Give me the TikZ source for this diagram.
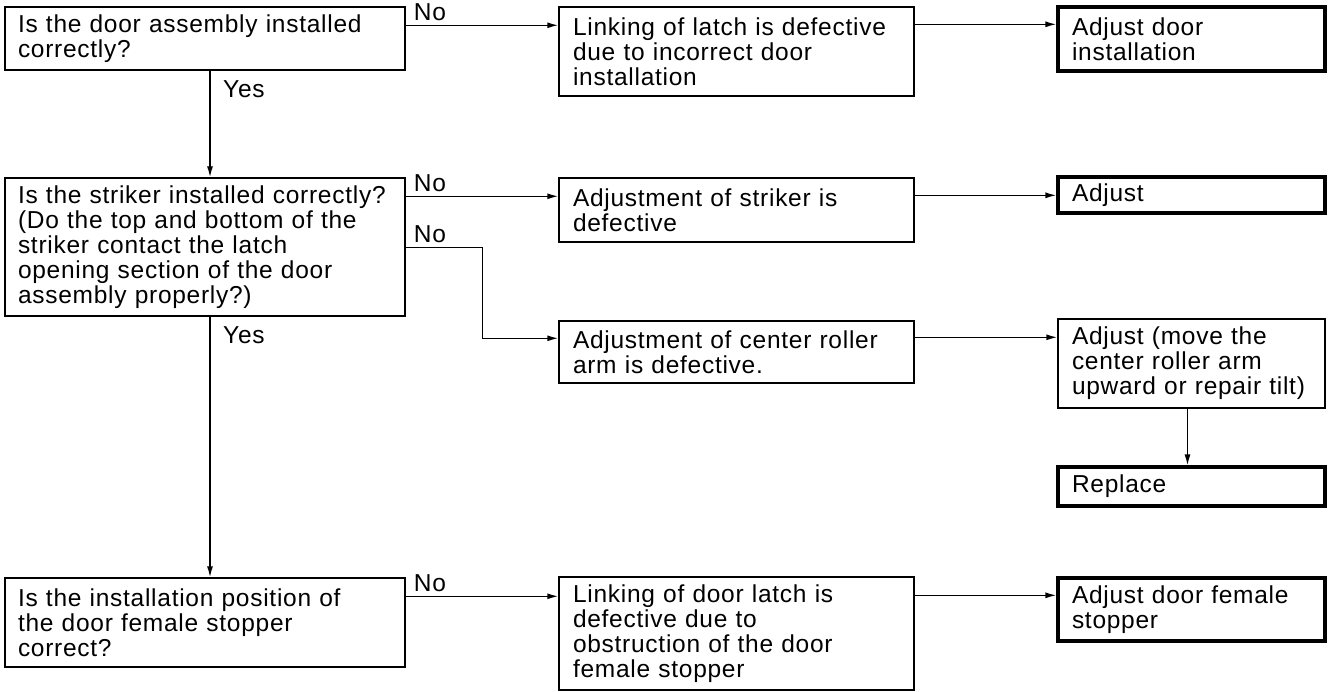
\documentclass[tikz,border=0pt]{standalone}
\usepackage{fontspec}
\setmainfont{Liberation Sans}[LetterSpace=3]
\usetikzlibrary{arrows.meta}
\tikzset{
 box/.style={draw, line width=1.4pt, align=left, inner ysep=0pt, font=\fontsize{24.5}{25}\selectfont},
 qbox/.style={box, inner xsep=13pt, text width=374pt},
 lbox/.style={box, inner xsep=14pt, text width=327pt},
 abox/.style={box, inner xsep=14pt, text width=239pt},
 endbox/.style={draw, line width=3.2pt, align=left, inner ysep=0pt, inner xsep=14pt, text width=239pt, font=\fontsize{24.5}{25}\selectfont},
 arr/.style={line width=1.4pt, -{Latex[length=11pt,width=6pt]}},
 lbl/.style={font=\fontsize{24.5}{25}\selectfont, inner xsep=8pt, inner ysep=4.5pt},
 yeslbl/.style={font=\fontsize{24.5}{25}\selectfont, inner xsep=13pt, inner ysep=10pt}
}
\begin{document}
\begin{tikzpicture}[x=1pt,y=-1pt]
\useasboundingbox (0,0) rectangle (1329,692);

\node[qbox, minimum height=63] (q1) at (205,38.5) {Is the door assembly installed\\correctly?};
\node[qbox, minimum height=138] (q2) at (205,247) {Is the striker installed correctly?\\(Do the top and bottom of the\\striker contact the latch\\opening section of the door\\assembly properly?)};
\node[qbox, minimum height=89] (q3) at (205,622.5) {Is the installation position of\\the door female stopper\\correct?};

\node[lbox, minimum height=89] (l1) at (736.5,51.5) {Linking of latch is defective\\due to incorrect door\\installation};
\node[lbox, minimum height=64] (l2) at (736.5,210) {Adjustment of striker is\\defective};
\node[lbox, minimum height=62] (l3) at (736.5,352) {Adjustment of center roller\\arm is defective.};
\node[lbox, minimum height=113] (l4) at (736.5,633.5) {Linking of door latch is\\defective due to\\obstruction of the door\\female stopper};

\node[endbox, minimum height=64] (a1) at (1191.5,39) {Adjust door\\installation};
\node[endbox, minimum height=36] (a2) at (1191.5,195) {Adjust};
\node[abox, minimum height=89] (a3) at (1191.5,363.5) {Adjust (move the\\center roller arm\\upward or repair tilt)};
\node[endbox, minimum height=39] (a4) at (1191.5,486.5) {Replace};
\node[endbox, minimum height=63] (a5) at (1191.5,609.5) {Adjust door female\\stopper};

\coordinate (n1) at ([yshift=-19]q1.north east);
\coordinate (n2) at ([yshift=-19]q2.north east);
\coordinate (n3) at ([yshift=-70]q2.north east);
\coordinate (n4) at ([yshift=-19]q3.north east);
\coordinate (t3) at ([yshift=-18]l3.north west);
\coordinate (m1) at ([yshift=-18]l1.north east);
\coordinate (m2) at ([yshift=-18]l2.north east);
\coordinate (m3) at ([yshift=-17]l3.north east);
\coordinate (m4) at ([yshift=-19]l4.north east);

\draw[arr] (n1) -- (n1 -| l1.west);
\draw[arr] (n2) -- (n2 -| l2.west);
\draw[arr] (n3) -- ++(77,0) |- (t3);
\draw[arr] (n4) -- (n4 -| l4.west);

\draw[arr] (m1) -- (m1 -| a1.west);
\draw[arr] (m2) -- (m2 -| a2.west);
\draw[arr] (m3) -- (m3 -| a3.west);
\draw[arr] (m4) -- (m4 -| a5.west);
\draw[arr] ([xshift=-4]a3.south) -- ([xshift=-4]a4.north);

\draw[arr] ([xshift=5]q1.south) -- ([xshift=5]q2.north);
\draw[arr] ([xshift=5]q2.south) -- ([xshift=5]q3.north);

\node[lbl, above right] at (n1) {No};
\node[lbl, above right] at (n2) {No};
\node[lbl, above right] at (n3) {No};
\node[lbl, above right] at (n4) {No};
\node[yeslbl, below right] at ([xshift=5]q1.south) {Yes};
\node[yeslbl, below right] at ([xshift=5]q2.south) {Yes};
\end{tikzpicture}
\end{document}
